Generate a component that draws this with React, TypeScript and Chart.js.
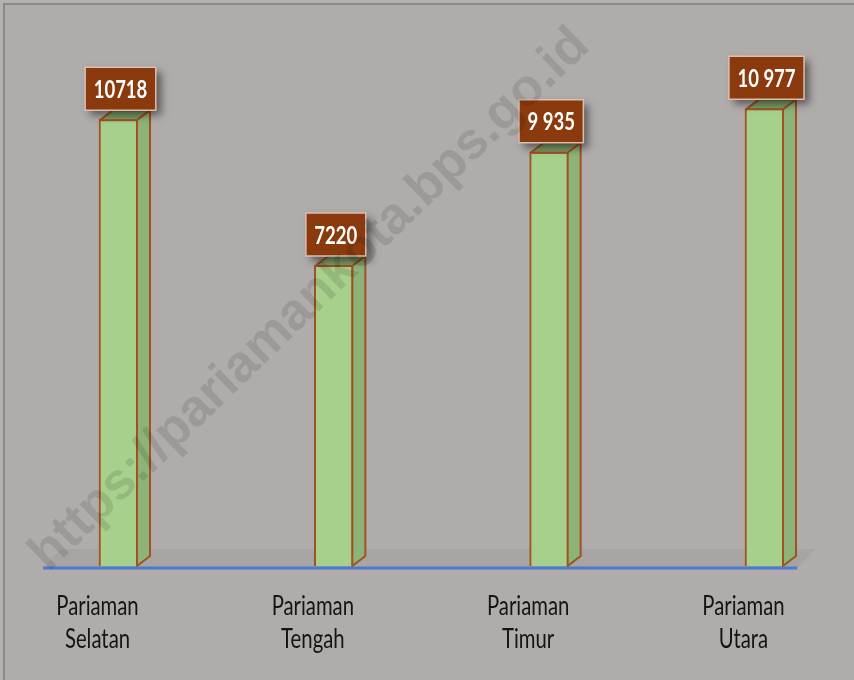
import React, { useEffect, useRef } from "react";
import { Chart, registerables } from "chart.js";

Chart.register(...registerables);

const categories: string[][] = [
  ["Pariaman", "Selatan"],
  ["Pariaman", "Tengah"],
  ["Pariaman", "Timur"],
  ["Pariaman", "Utara"],
];
const values: number[] = [10718, 7220, 9935, 10977];
const valueLabels: string[] = ["10718", "7220", "9 935", "10 977"];
const watermarkText = "https://pariamankota.bps.go.id";

const DX = 13;
const DY = 10;

function condensedText(ctx: any, txt: string, x: number, y: number, sx: number) {
  ctx.save();
  ctx.translate(x, y);
  ctx.scale(sx, 1);
  ctx.fillText(txt, 0, 0);
  ctx.restore();
}

const decorPlugin = {
  id: "decor",
  beforeDraw(chart: any) {
    const ctx = chart.ctx;
    ctx.save();
    ctx.fillStyle = "#b5b1b0";
    ctx.fillRect(0, 0, chart.width, chart.height);
    ctx.fillStyle = "#b0acab";
    ctx.fillRect(5, 5, chart.width - 5, chart.height - 5);
    ctx.strokeStyle = "#8c8887";
    ctx.lineWidth = 2;
    ctx.beginPath();
    ctx.moveTo(4, chart.height);
    ctx.lineTo(4, 4);
    ctx.lineTo(chart.width, 4);
    ctx.stroke();
    ctx.restore();
  },
  beforeDatasetsDraw(chart: any) {
    const ctx = chart.ctx;
    const yScale = chart.scales.y;
    const xScale = chart.scales.x;
    const base = yScale.getPixelForValue(0);
    const step = xScale.getPixelForValue(1) - xScale.getPixelForValue(0);
    const left = xScale.getPixelForValue(0) - step * 0.35;
    const right = xScale.getPixelForValue(categories.length - 1) + step * 0.152;
    ctx.save();
    // floor
    ctx.fillStyle = "#a8a4a3";
    ctx.beginPath();
    ctx.moveTo(left, base + 2);
    ctx.lineTo(left + 18, base - 17);
    ctx.lineTo(right + 18, base - 17);
    ctx.lineTo(right, base + 2);
    ctx.closePath();
    ctx.fill();
    // baseline
    ctx.strokeStyle = "#4a7bd0";
    ctx.lineWidth = 3;
    ctx.beginPath();
    ctx.moveTo(left, base + 2);
    ctx.lineTo(right, base + 2);
    ctx.stroke();
    ctx.restore();

    // category labels (condensed, two lines)
    ctx.save();
    ctx.fillStyle = "#141414";
    ctx.font = "26px Lato, 'Liberation Sans', sans-serif";
    ctx.textAlign = "center";
    ctx.textBaseline = "middle";
    categories.forEach((lines, i) => {
      const cx = xScale.getPixelForValue(i) - 21;
      lines.forEach((ln, j) => {
        condensedText(ctx, ln, cx, base + 41 + j * 33, 0.78);
      });
    });
    ctx.restore();
  },
  afterDatasetsDraw(chart: any) {
    const ctx = chart.ctx;
    const meta = chart.getDatasetMeta(0);
    ctx.save();
    meta.data.forEach((bar: any, i: number) => {
      const p = bar.getProps(["x", "y", "base", "width"], true);
      const l = p.x - p.width / 2;
      const r = p.x + p.width / 2;
      const top = p.y;
      const b = p.base;
      ctx.lineWidth = 2;
      ctx.strokeStyle = "#a0521f";
      ctx.lineJoin = "round";
      // side
      ctx.fillStyle = "#8db378";
      ctx.beginPath();
      ctx.moveTo(r - 1, top);
      ctx.lineTo(r - 1 + DX, top - DY);
      ctx.lineTo(r - 1 + DX, b - DY);
      ctx.lineTo(r - 1, b);
      ctx.closePath();
      ctx.fill();
      ctx.stroke();
      // top
      ctx.fillStyle = "#7e9f69";
      ctx.beginPath();
      ctx.moveTo(l + 1, top + 1);
      ctx.lineTo(l + 1 + DX, top + 1 - DY);
      ctx.lineTo(r - 1 + DX, top + 1 - DY);
      ctx.lineTo(r - 1, top + 1);
      ctx.closePath();
      ctx.fill();
      ctx.stroke();

      // value label box
      const txt = valueLabels[i];
      const sx = 0.74;
      ctx.font = "bold 25px Lato, 'Liberation Sans', sans-serif";
      const tw = ctx.measureText(txt).width * sx;
      const bw = tw + 17;
      const bh = 43;
      const cx = p.x + 2;
      const by = top - 9 - bh;
      ctx.save();
      ctx.shadowColor = "rgba(0,0,0,0.5)";
      ctx.shadowBlur = 8;
      ctx.shadowOffsetX = 5;
      ctx.shadowOffsetY = 5;
      ctx.fillStyle = "#8a3a0c";
      ctx.fillRect(cx - bw / 2, by, bw, bh);
      ctx.restore();
      ctx.strokeStyle = "#d9c0b2";
      ctx.lineWidth = 1.5;
      ctx.strokeRect(cx - bw / 2, by, bw, bh);
      ctx.fillStyle = "#ffffff";
      ctx.textAlign = "center";
      ctx.textBaseline = "middle";
      condensedText(ctx, txt, cx, by + bh / 2 + 1, sx);
    });
    ctx.restore();

    // watermark
    ctx.save();
    ctx.translate(310, 300);
    ctx.rotate((-44 * Math.PI) / 180);
    let size = 50;
    ctx.font = `bold ${size}px 'Liberation Sans', Arial, sans-serif`;
    const w = ctx.measureText(watermarkText).width;
    size = size * (755 / w);
    ctx.font = `bold ${size}px 'Liberation Sans', Arial, sans-serif`;
    ctx.fillStyle = "rgba(0,0,0,0.11)";
    ctx.textAlign = "center";
    ctx.textBaseline = "middle";
    ctx.fillText(watermarkText, 0, 0);
    ctx.restore();
  },
};

export default function App() {
  const ref = useRef<HTMLCanvasElement | null>(null);
  useEffect(() => {
    if (!ref.current) return;
    const chart = new Chart(ref.current, {
      type: "bar",
      data: {
        labels: categories,
        datasets: [
          {
            data: values,
            backgroundColor: "#a8d08d",
            borderColor: "#a0521f",
            borderWidth: 2,
            barThickness: 39,
            clip: false as any,
          },
        ],
      },
      options: {
        animation: false,
        responsive: false,
        layout: { padding: { left: 118.5, right: 89.5, top: 24, bottom: 114 } },
        plugins: { legend: { display: false }, tooltip: { enabled: false } },
        scales: {
          x: {
            display: false,
            offset: false,
          },
          y: {
            display: false,
            min: 0,
            max: 13000,
          },
        },
      },
      plugins: [decorPlugin],
    });
    return () => chart.destroy();
  }, []);
  return (
    <div style={{ position: "fixed", left: 0, top: 0, width: 854, height: 680 }}>
      <canvas ref={ref} width={854} height={680} />
    </div>
  );
}
